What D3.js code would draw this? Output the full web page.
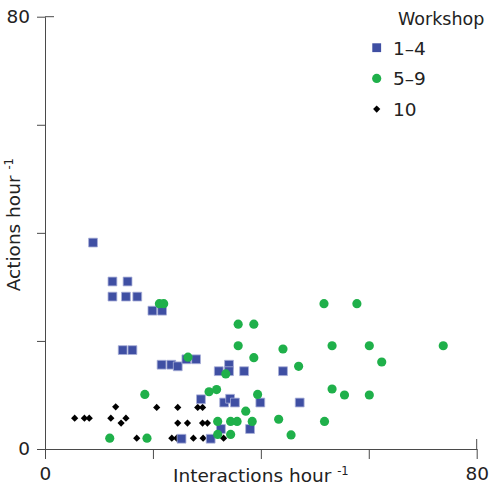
<!DOCTYPE html>
<html>
<head>
<meta charset="utf-8">
<script src="https://cdn.jsdelivr.net/npm/d3@7"></script>
<style>
  body { margin: 0; background: #fff; }
  text { font-family: "DejaVu Sans", Verdana, sans-serif; fill: #222; }
</style>
</head>
<body>
<svg id="chart" width="489" height="485"></svg>
<script>
// workshop groups
var groups = ['1\u20134', '5\u20139', '10'];

// workshops 1-4 (blue squares): [interactions, actions]
var w14 = [
  [8.9, 38.2], [12.5, 31.0], [15.3, 31.0], [12.5, 28.2], [15.0, 28.2], [17.1, 28.2],
  [19.9, 25.6], [21.7, 25.6], [14.4, 18.3], [16.2, 18.3], [21.6, 15.6], [23.4, 15.6],
  [24.6, 15.3], [26.2, 16.6], [28.0, 16.6], [32.2, 14.4], [34.1, 15.6], [34.1, 14.4],
  [36.9, 14.4], [44.1, 14.4], [28.9, 9.2], [33.2, 8.6], [34.3, 9.3], [35.2, 8.6],
  [39.9, 8.6], [47.2, 8.6], [32.6, 3.7], [38.0, 3.7], [25.3, 1.9], [30.7, 1.9]
];

// workshops 5-9 (green circles)
var w59 = [
  [21.2, 26.9], [22.0, 26.9], [26.5, 17.0], [33.5, 13.9], [35.8, 23.1], [38.7, 23.1],
  [35.8, 19.1], [38.7, 16.9], [44.1, 18.5], [47.0, 15.3], [51.7, 26.9], [57.8, 26.9],
  [53.2, 19.1], [60.1, 19.1], [73.8, 19.1], [62.4, 16.1], [53.2, 11.1], [55.5, 10.0],
  [60.1, 10.0], [51.8, 5.1], [45.6, 2.6], [43.3, 5.5], [39.4, 10.1], [37.2, 7.0],
  [30.4, 10.6], [31.8, 11.0], [18.5, 10.1], [32.0, 5.1], [34.4, 5.1], [35.6, 5.1],
  [38.4, 5.1], [32.0, 2.7], [34.4, 2.7], [12.0, 2.0], [18.9, 2.0]
];

// workshop 10 (black diamonds)
var w10 = [
  [5.5, 5.7], [7.3, 5.7], [8.2, 5.7], [13.1, 7.8], [12.2, 5.7], [15.0, 5.7],
  [14.1, 4.8], [17.0, 2.0], [20.7, 7.7], [24.6, 7.7], [28.3, 7.7], [29.2, 7.7],
  [24.6, 4.8], [26.4, 4.8], [29.2, 4.8], [30.1, 4.8], [23.5, 2.0], [24.4, 2.0],
  [27.5, 2.0], [29.3, 2.0], [33.1, 2.0]
];

var axisTicks = [0, 20, 40, 60, 80];

var svg = d3.select('#chart');
var x = d3.scaleLinear().domain([0, 80]).range([45, 476.7]);
var y = d3.scaleLinear().domain([0, 80]).range([449, 16.7]);

var axisColor = '#4a4a4a';

// y axis
var yAxis = svg.append('g')
  .attr('transform', 'translate(' + x(0) + ',0)')
  .call(d3.axisLeft(y).tickValues(axisTicks).tickSizeInner(8).tickSizeOuter(0)
    .tickPadding(7).tickFormat(function (d) { return (d === 0 || d === 80) ? d : ''; }));

// x axis
var xAxis = svg.append('g')
  .attr('transform', 'translate(0,' + y(0) + ')')
  .call(d3.axisBottom(x).tickValues(axisTicks).tickSizeInner(10).tickSizeOuter(0)
    .tickPadding(8).tickFormat(function (d) { return (d === 0 || d === 80) ? d : ''; }));

[yAxis, xAxis].forEach(function (g) {
  g.select('.domain').attr('stroke', axisColor);
  g.selectAll('.tick line').attr('stroke', axisColor);
  g.selectAll('.tick text').style('font-size', '18.5px').attr('fill', '#222');
});

// end ticks cross the axis
yAxis.append('line').attr('x1', 0).attr('x2', 9)
  .attr('y1', y(80)).attr('y2', y(80)).attr('stroke', axisColor);
xAxis.append('line').attr('x1', x(80)).attr('x2', x(80))
  .attr('y1', 0).attr('y2', -10).attr('stroke', axisColor);

// axis titles
var xt = svg.append('text')
  .attr('x', x(40)).attr('y', 482)
  .attr('text-anchor', 'middle')
  .style('font-size', '18.5px');
xt.append('tspan').text('Interactions hour ');
xt.append('tspan').text('-1').style('font-size', '11.5px').attr('dy', -7);

var yt = svg.append('text')
  .attr('transform', 'translate(20,' + y(41.5) + ') rotate(-90)')
  .attr('text-anchor', 'middle')
  .style('font-size', '18.5px');
yt.append('tspan').text('Actions hour ');
yt.append('tspan').text('-1').style('font-size', '11.5px').attr('dy', -7);

// marks
var blue = '#3f4fa3', green = '#1fb04a';
var square = d3.symbol().type(d3.symbolSquare).size(78);
var circle = d3.symbol().type(d3.symbolCircle).size(66);
var diamond = d3.symbol().type(d3.symbolSquare).size(26);

svg.append('g').selectAll('path').data(w10).enter().append('path')
  .attr('d', diamond)
  .attr('transform', function (d) { return 'translate(' + x(d[0]) + ',' + y(d[1]) + ') rotate(45)'; })
  .attr('fill', '#000');

svg.append('g').selectAll('path').data(w14).enter().append('path')
  .attr('d', square)
  .attr('transform', function (d) { return 'translate(' + x(d[0]) + ',' + y(d[1]) + ')'; })
  .attr('fill', blue).attr('stroke', '#a9b0d8').attr('stroke-width', 0.8);

svg.append('g').selectAll('path').data(w59).enter().append('path')
  .attr('d', circle)
  .attr('transform', function (d) { return 'translate(' + x(d[0]) + ',' + y(d[1]) + ')'; })
  .attr('fill', green);

// legend
var legend = svg.append('g');
legend.append('text').attr('x', 398).attr('y', 25).style('font-size', '17.5px').text('Workshop');
var shapes = [
  { sym: square, fill: blue, rot: 0 },
  { sym: circle, fill: green, rot: 0 },
  { sym: diamond, fill: '#000', rot: 45 }
];
groups.forEach(function (g, i) {
  var ly = 47.7 + i * 30.7;
  legend.append('path')
    .attr('d', shapes[i].sym)
    .attr('transform', 'translate(376.7,' + ly + ') rotate(' + shapes[i].rot + ')')
    .attr('fill', shapes[i].fill);
  legend.append('text').attr('x', 393).attr('y', ly + 7).style('font-size', '18.5px').text(g);
});
</script>
</body>
</html>
